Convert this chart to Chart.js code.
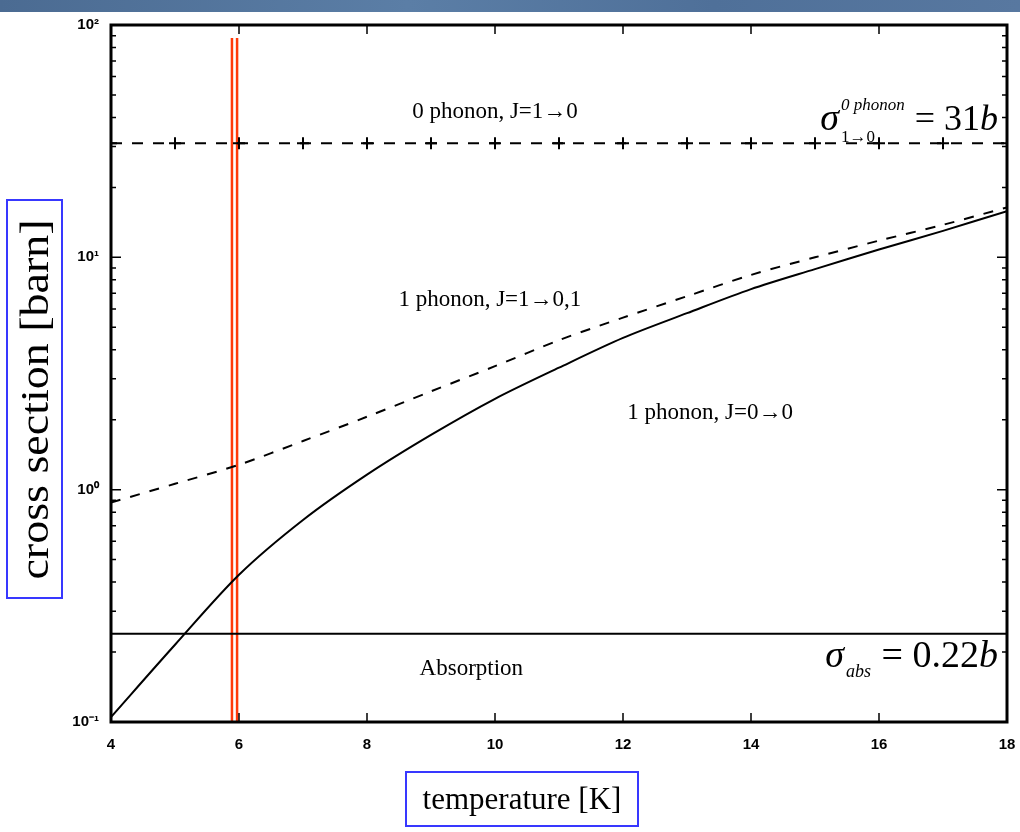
<!DOCTYPE html>
<html>
<head>
<meta charset="utf-8">
<script src="https://cdn.jsdelivr.net/npm/chart.js@4"></script>
<style>
  html, body { margin: 0; padding: 0; background: #fff; }
  #wrap { position: relative; width: 1020px; height: 832px; overflow: hidden; }
  #banner {
    position: absolute; left: 0; top: 0; width: 1020px; height: 12px;
    background: linear-gradient(to right, #4b6b92, #5b7ea6 40%, #4f7099 70%, #5878a0);
  }
  .axis-box {
    position: absolute; border: 2px solid #3838ff; box-sizing: border-box;
    display: flex; align-items: center; justify-content: center;
    font-family: "Liberation Serif", "DejaVu Serif", serif; color: #000;
    white-space: nowrap;
  }
  #yTitle { left: 6px; top: 199px; width: 57px; height: 400px; }
  #yTitle span { display: inline-block; font-size: 40px; transform: rotate(-90deg) scaleX(1.15); }
  #xTitle { left: 405px; top: 771px; width: 234px; height: 56px; font-size: 31px; }
</style>
</head>
<body>
<div id="wrap">
  <canvas id="chart" width="1020" height="832"></canvas>
  <div id="banner"></div>
  <div id="yTitle" class="axis-box"><span>cross section [barn]</span></div>
  <div id="xTitle" class="axis-box">temperature [K]</div>
</div>
<script>
// Temperature grid [K]
const temps = [4, 5, 6, 7, 8, 9, 10, 11, 12, 13, 14, 15, 16, 17, 18];

// Cross sections [barn]
const sigmaOnePhononJ00 = [0.105, 0.215, 0.43, 0.74, 1.16, 1.72, 2.46, 3.35, 4.5, 5.75, 7.3, 8.9, 10.8, 13.0, 15.8];
const sigmaOnePhononJ101 = [0.88, 1.06, 1.28, 1.62, 2.06, 2.65, 3.4, 4.4, 5.5, 6.8, 8.4, 10.0, 11.8, 13.8, 16.4];
const sigmaZeroPhonon = [31, 31, 31, 31, 31, 31, 31, 31, 31, 31, 31, 31, 31, 31, 31];

// Absorption level (flat)
const absTemps = [4, 18];
const absValues = [0.24, 0.24];

// Red marker lines
const markerTemps = [5.89, 5.97];
const markerRange = [0.1, 88];

// Axis ticks
const xTicks = [4, 6, 8, 10, 12, 14, 16, 18];
const yDecades = [0.1, 1, 10, 100];
const yDecadeLabels = ['10\u207B\u00B9', '10\u2070', '10\u00B9', '10\u00B2'];

// Text labels placed in data coordinates
const textLabels = [
  { text: '0 phonon, J=1\u21920', x: 10.0, y: 42.2 },
  { text: '1 phonon, J=1\u21920,1', x: 9.92, y: 6.55 },
  { text: '1 phonon, J=0\u21920', x: 13.36, y: 2.14 },
  { text: 'Absorption', x: 9.63, y: 0.17 }
];

const SERIF = '"Liberation Serif", "DejaVu Serif", serif';

function toPoints(xs, ys) {
  return xs.map((x, i) => ({ x, y: ys[i] }));
}

// Inward ticks, frame and text annotations
const decorPlugin = {
  id: 'decor',
  afterDraw(chart) {
    const { ctx, chartArea: a, scales } = chart;
    const xs = scales.x;
    const ys = scales.y;
    ctx.save();
    ctx.strokeStyle = '#000';

    // x ticks (top and bottom, inward)
    ctx.lineWidth = 1.5;
    xTicks.forEach(t => {
      if (t === xTicks[0] || t === xTicks[xTicks.length - 1]) return;
      const px = xs.getPixelForValue(t);
      ctx.beginPath();
      ctx.moveTo(px, a.bottom); ctx.lineTo(px, a.bottom - 9);
      ctx.moveTo(px, a.top); ctx.lineTo(px, a.top + 9);
      ctx.stroke();
    });

    // y ticks (log, major + minor, both sides)
    for (let e = -1; e <= 1; e++) {
      for (let m = 1; m <= 9; m++) {
        const v = m * Math.pow(10, e);
        const py = ys.getPixelForValue(v);
        const len = m === 1 ? 10 : 5;
        ctx.beginPath();
        ctx.moveTo(a.left, py); ctx.lineTo(a.left + len, py);
        ctx.moveTo(a.right, py); ctx.lineTo(a.right - len, py);
        ctx.stroke();
      }
    }

    // frame
    ctx.lineWidth = 3;
    ctx.strokeRect(a.left, a.top, a.right - a.left, a.bottom - a.top);

    // plain labels
    ctx.fillStyle = '#000';
    ctx.font = '23px ' + SERIF;
    ctx.textAlign = 'center';
    ctx.textBaseline = 'middle';
    textLabels.forEach(l => {
      ctx.fillText(l.text, xs.getPixelForValue(l.x), ys.getPixelForValue(l.y));
    });

    // sigma formulas, right aligned
    ctx.textAlign = 'left';
    ctx.textBaseline = 'alphabetic';
    drawFormula(ctx, xs.getPixelForValue(17.86), ys.getPixelForValue(35.3), [
      { t: '\u03C3', f: 'italic 38px ' + SERIF },
      { stack: [
        { t: '0 phonon', f: 'italic 17px ' + SERIF, dy: -20 },
        { t: '1\u21920', f: '17px ' + SERIF, dy: 12 }
      ] },
      { t: ' = 31', f: '36px ' + SERIF },
      { t: 'b', f: 'italic 36px ' + SERIF }
    ]);
    drawFormula(ctx, xs.getPixelForValue(17.86), ys.getPixelForValue(0.1725), [
      { t: '\u03C3', f: 'italic 38px ' + SERIF },
      { stack: [ { t: 'abs', f: 'italic 18px ' + SERIF, dy: 10 } ] },
      { t: ' = 0.22', f: '38px ' + SERIF },
      { t: 'b', f: 'italic 38px ' + SERIF }
    ]);
    ctx.restore();
  }
};

function pieceWidth(ctx, p) {
  if (p.stack) {
    return Math.max(...p.stack.map(s => { ctx.font = s.f; return ctx.measureText(s.t).width; })) + 3;
  }
  ctx.font = p.f;
  return ctx.measureText(p.t).width;
}

function drawFormula(ctx, right, baseline, pieces) {
  const total = pieces.reduce((sum, p) => sum + pieceWidth(ctx, p), 0);
  let x = right - total;
  pieces.forEach(p => {
    const w = pieceWidth(ctx, p);
    if (p.stack) {
      p.stack.forEach(s => {
        ctx.font = s.f;
        ctx.fillText(s.t, x + 2, baseline + s.dy);
      });
    } else {
      ctx.font = p.f;
      ctx.fillText(p.t, x, baseline);
    }
    x += w;
  });
}

const lineBase = { pointRadius: 0, fill: false, borderColor: '#000', borderWidth: 2 };

const chart = new Chart(document.getElementById('chart').getContext('2d'), {
  type: 'line',
  data: {
    datasets: [
      { ...lineBase, label: '1 phonon, J=0->0', data: toPoints(temps, sigmaOnePhononJ00),
        tension: 0.3 },
      { ...lineBase, label: '1 phonon, J=1->0,1', data: toPoints(temps, sigmaOnePhononJ101),
        borderDash: [10, 10], tension: 0.3 },
      { ...lineBase, label: '0 phonon, J=1->0', data: toPoints(temps, sigmaZeroPhonon),
        borderDash: [11, 10], pointStyle: 'cross', pointRadius: 6, pointBorderWidth: 2,
        pointBorderColor: '#000' },
      { ...lineBase, label: 'Absorption', data: toPoints(absTemps, absValues) },
      { ...lineBase, label: 'marker 1', borderColor: '#ff3a0a', borderWidth: 2.5,
        data: toPoints([markerTemps[0], markerTemps[0]], markerRange) },
      { ...lineBase, label: 'marker 2', borderColor: '#ff3a0a', borderWidth: 2.5,
        data: toPoints([markerTemps[1], markerTemps[1]], markerRange) }
    ]
  },
  options: {
    responsive: false,
    animation: false,
    layout: { padding: { top: 25, right: 13, left: 0, bottom: 0 } },
    plugins: {
      legend: { display: false },
      tooltip: { enabled: false }
    },
    scales: {
      x: {
        type: 'linear',
        min: 4,
        max: 18,
        afterFit: s => { s.height = 110; s.paddingLeft = 0; s.paddingRight = 0; },
        afterBuildTicks: s => { s.ticks = xTicks.map(v => ({ value: v })); },
        grid: { display: false, drawTicks: false },
        border: { display: false },
        ticks: {
          padding: 14,
          color: '#000',
          font: { family: '"Liberation Sans", Arial, sans-serif', size: 15, weight: 'bold' }
        }
      },
      y: {
        type: 'logarithmic',
        min: 0.1,
        max: 100,
        afterFit: s => { s.width = 111; s.paddingTop = 0; s.paddingBottom = 0; },
        afterBuildTicks: s => { s.ticks = yDecades.map(v => ({ value: v })); },
        grid: { display: false, drawTicks: false },
        border: { display: false },
        ticks: {
          padding: 12,
          autoSkip: false,
          color: '#000',
          font: { family: '"Liberation Sans", Arial, sans-serif', size: 15, weight: 'bold' },
          callback: v => yDecadeLabels[yDecades.findIndex(d => Math.abs(d - v) < 1e-9)] || ''
        }
      }
    }
  },
  plugins: [decorPlugin]
});
</script>
</body>
</html>
